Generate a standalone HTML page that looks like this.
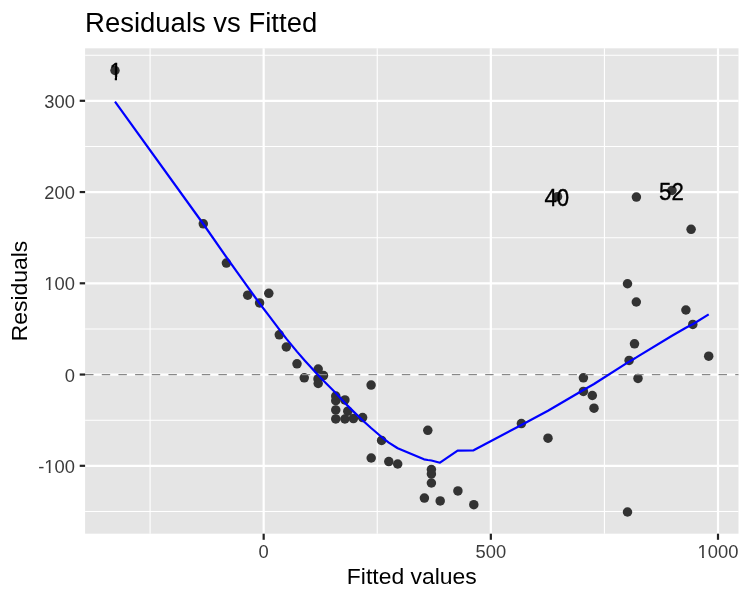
<!DOCTYPE html>
<html><head><meta charset="utf-8"><title>Residuals vs Fitted</title>
<style>
html,body{margin:0;padding:0;background:#fff;}
svg{display:block;will-change:transform;}
text{font-family:"Liberation Sans",Arial,sans-serif;}
.tk{font-size:18.33px;fill:#3B3B3B;}
.ttl{font-size:28.2px;fill:#000;}
.ax{font-size:22.92px;fill:#000;}
.lab{font-size:23.1px;fill:#000;stroke:#000;stroke-width:0.35px;}
</style></head><body>
<svg width="750" height="600" viewBox="0 0 750 600">
<defs><clipPath id="f1"><rect x="0" y="0" width="750" height="77"/><rect x="114.82" y="0" width="2.20" height="600"/><rect x="121.96" y="0" width="750" height="600"/></clipPath><clipPath id="f2"><rect x="0" y="0" width="750" height="288"/><rect x="48.77" y="0" width="1.81" height="600"/><rect x="54.67" y="0" width="750" height="600"/></clipPath><clipPath id="f3"><rect x="0" y="0" width="750" height="471"/><rect x="48.77" y="0" width="1.81" height="600"/><rect x="54.67" y="0" width="750" height="600"/></clipPath><clipPath id="f4"><rect x="0" y="0" width="750" height="556"/><rect x="702.07" y="0" width="1.81" height="600"/><rect x="707.97" y="0" width="750" height="600"/></clipPath></defs>
<rect width="750" height="600" fill="#fff"/>
<rect x="85.1" y="48.3" width="653.40" height="485.40" fill="#E5E5E5"/>
<line x1="85.1" x2="738.5" y1="55.18" y2="55.18" stroke="#fff" stroke-width="1.1"/>
<line x1="85.1" x2="738.5" y1="146.43" y2="146.43" stroke="#fff" stroke-width="1.1"/>
<line x1="85.1" x2="738.5" y1="237.68" y2="237.68" stroke="#fff" stroke-width="1.1"/>
<line x1="85.1" x2="738.5" y1="328.93" y2="328.93" stroke="#fff" stroke-width="1.1"/>
<line x1="85.1" x2="738.5" y1="420.18" y2="420.18" stroke="#fff" stroke-width="1.1"/>
<line x1="85.1" x2="738.5" y1="511.43" y2="511.43" stroke="#fff" stroke-width="1.1"/>
<line y1="48.3" y2="533.7" x1="150.09" x2="150.09" stroke="#fff" stroke-width="1.1"/>
<line y1="48.3" y2="533.7" x1="377.25" x2="377.25" stroke="#fff" stroke-width="1.1"/>
<line y1="48.3" y2="533.7" x1="604.42" x2="604.42" stroke="#fff" stroke-width="1.1"/>
<line x1="85.1" x2="738.5" y1="100.80" y2="100.80" stroke="#fff" stroke-width="2.2"/>
<line x1="85.1" x2="738.5" y1="192.05" y2="192.05" stroke="#fff" stroke-width="2.2"/>
<line x1="85.1" x2="738.5" y1="283.30" y2="283.30" stroke="#fff" stroke-width="2.2"/>
<line x1="85.1" x2="738.5" y1="374.55" y2="374.55" stroke="#fff" stroke-width="2.2"/>
<line x1="85.1" x2="738.5" y1="465.80" y2="465.80" stroke="#fff" stroke-width="2.2"/>
<line y1="48.3" y2="533.7" x1="263.67" x2="263.67" stroke="#fff" stroke-width="2.2"/>
<line y1="48.3" y2="533.7" x1="490.84" x2="490.84" stroke="#fff" stroke-width="2.2"/>
<line y1="48.3" y2="533.7" x1="718.00" x2="718.00" stroke="#fff" stroke-width="2.2"/>
<circle cx="115" cy="70.5" r="4.75" fill="#333333"/>
<circle cx="203.3" cy="223.8" r="4.75" fill="#333333"/>
<circle cx="226.4" cy="263.1" r="4.75" fill="#333333"/>
<circle cx="247.7" cy="295.2" r="4.75" fill="#333333"/>
<circle cx="259.6" cy="302.9" r="4.75" fill="#333333"/>
<circle cx="268.8" cy="293.3" r="4.75" fill="#333333"/>
<circle cx="279.3" cy="334.8" r="4.75" fill="#333333"/>
<circle cx="286.3" cy="347" r="4.75" fill="#333333"/>
<circle cx="297" cy="363.8" r="4.75" fill="#333333"/>
<circle cx="304.25" cy="377.8" r="4.75" fill="#333333"/>
<circle cx="318.2" cy="369.1" r="4.75" fill="#333333"/>
<circle cx="323.5" cy="375.6" r="4.75" fill="#333333"/>
<circle cx="318" cy="378.9" r="4.75" fill="#333333"/>
<circle cx="318.2" cy="383.5" r="4.75" fill="#333333"/>
<circle cx="371.1" cy="385.1" r="4.75" fill="#333333"/>
<circle cx="335.75" cy="396" r="4.75" fill="#333333"/>
<circle cx="335.75" cy="400.7" r="4.75" fill="#333333"/>
<circle cx="344.9" cy="399.9" r="4.75" fill="#333333"/>
<circle cx="335.75" cy="409.9" r="4.75" fill="#333333"/>
<circle cx="347.8" cy="411.2" r="4.75" fill="#333333"/>
<circle cx="335.75" cy="418.9" r="4.75" fill="#333333"/>
<circle cx="344.9" cy="419" r="4.75" fill="#333333"/>
<circle cx="353.4" cy="418.6" r="4.75" fill="#333333"/>
<circle cx="362.6" cy="417.6" r="4.75" fill="#333333"/>
<circle cx="427.8" cy="430.3" r="4.75" fill="#333333"/>
<circle cx="381.6" cy="440.4" r="4.75" fill="#333333"/>
<circle cx="371.2" cy="458" r="4.75" fill="#333333"/>
<circle cx="388.8" cy="461.6" r="4.75" fill="#333333"/>
<circle cx="397.7" cy="464" r="4.75" fill="#333333"/>
<circle cx="431.4" cy="469.5" r="4.75" fill="#333333"/>
<circle cx="431.4" cy="474" r="4.75" fill="#333333"/>
<circle cx="431.4" cy="483" r="4.75" fill="#333333"/>
<circle cx="457.9" cy="490.9" r="4.75" fill="#333333"/>
<circle cx="424.4" cy="498.1" r="4.75" fill="#333333"/>
<circle cx="440.2" cy="500.9" r="4.75" fill="#333333"/>
<circle cx="473.8" cy="504.7" r="4.75" fill="#333333"/>
<circle cx="521.4" cy="423.6" r="4.75" fill="#333333"/>
<circle cx="548" cy="438.2" r="4.75" fill="#333333"/>
<circle cx="583.4" cy="377.8" r="4.75" fill="#333333"/>
<circle cx="583.4" cy="391.4" r="4.75" fill="#333333"/>
<circle cx="592.3" cy="395.5" r="4.75" fill="#333333"/>
<circle cx="594" cy="408.2" r="4.75" fill="#333333"/>
<circle cx="629.1" cy="360.4" r="4.75" fill="#333333"/>
<circle cx="638" cy="378.4" r="4.75" fill="#333333"/>
<circle cx="627.5" cy="283.75" r="4.75" fill="#333333"/>
<circle cx="636.3" cy="302" r="4.75" fill="#333333"/>
<circle cx="685.9" cy="310" r="4.75" fill="#333333"/>
<circle cx="692.8" cy="324.4" r="4.75" fill="#333333"/>
<circle cx="634.5" cy="343.8" r="4.75" fill="#333333"/>
<circle cx="708.7" cy="356.2" r="4.75" fill="#333333"/>
<circle cx="636.4" cy="197.1" r="4.75" fill="#333333"/>
<circle cx="672" cy="190.4" r="4.75" fill="#333333"/>
<circle cx="691.1" cy="229.3" r="4.75" fill="#333333"/>
<circle cx="557.5" cy="196.7" r="4.75" fill="#333333"/>
<circle cx="627.5" cy="512" r="4.75" fill="#333333"/>
<line x1="85.1" x2="738.5" y1="374.55" y2="374.55" stroke="#888888" stroke-width="1.25" stroke-dasharray="8.4 8.27"/>
<polyline points="115,101.7 203.3,224 226.2,256.9 247.5,286.7 259.6,303.5 268.7,315.3 279.25,329.4 286.3,338.6 297,351.6 304.25,360 318,375 323.5,380.8 335.75,393 344.9,403 347.8,405.9 353.6,411.6 362.5,420.2 371.1,428 381.6,437 388.8,442.6 397.7,448.3 424,459.3 427.8,460 431.4,460.5 440,462.7 457.6,450.7 473.6,450.3 521.4,425 548,410.8 583.4,390 592.3,385 594,384 627.5,362.6 629.1,361.7 634.5,358.5 636.4,357.4 638,356.4 672,335.8 685.9,327.8 691.1,325 692.8,324.2 708.7,314.4" fill="none" stroke="#0000FF" stroke-width="2.2" stroke-linejoin="round"/>
<g clip-path="url(#f1)"><text transform="translate(115.60,79.80) scale(0.96,1)" text-anchor="middle" class="lab">1</text></g>
<text transform="translate(556.80,206.00) scale(0.96,1)" text-anchor="middle" class="lab">40</text>
<text transform="translate(671.40,199.70) scale(0.96,1)" text-anchor="middle" class="lab">52</text>
<line x1="79.7" x2="85.1" y1="100.80" y2="100.80" stroke="#222222" stroke-width="2.2"/>
<text x="74.9" y="108.00" text-anchor="end" class="tk">300</text>
<line x1="79.7" x2="85.1" y1="192.05" y2="192.05" stroke="#222222" stroke-width="2.2"/>
<text x="74.9" y="199.00" text-anchor="end" class="tk">200</text>
<line x1="79.7" x2="85.1" y1="283.30" y2="283.30" stroke="#222222" stroke-width="2.2"/>
<g clip-path="url(#f2)"><text x="74.9" y="290.00" text-anchor="end" class="tk">100</text></g>
<line x1="79.7" x2="85.1" y1="374.55" y2="374.55" stroke="#222222" stroke-width="2.2"/>
<text x="74.9" y="382.00" text-anchor="end" class="tk">0</text>
<line x1="79.7" x2="85.1" y1="465.80" y2="465.80" stroke="#222222" stroke-width="2.2"/>
<g clip-path="url(#f3)"><text x="74.9" y="473.00" text-anchor="end" class="tk">-100</text></g>
<line y1="533.7" y2="539.80" x1="263.67" x2="263.67" stroke="#222222" stroke-width="2.2"/>
<text x="263.67" y="558.2" text-anchor="middle" class="tk">0</text>
<line y1="533.7" y2="539.80" x1="490.84" x2="490.84" stroke="#222222" stroke-width="2.2"/>
<text x="490.84" y="558.2" text-anchor="middle" class="tk">500</text>
<line y1="533.7" y2="539.80" x1="718.00" x2="718.00" stroke="#222222" stroke-width="2.2"/>
<g clip-path="url(#f4)"><text x="718.00" y="558.2" text-anchor="middle" class="tk">1000</text></g>
<text transform="translate(85.1,31.9) scale(0.975,1)" class="ttl">Residuals vs Fitted</text>
<text x="411.80" y="583.7" text-anchor="middle" class="ax">Fitted values</text>
<text transform="translate(27.3,291.00) rotate(-90)" x="0" y="0" text-anchor="middle" class="ax">Residuals</text>
</svg>
</body></html>
